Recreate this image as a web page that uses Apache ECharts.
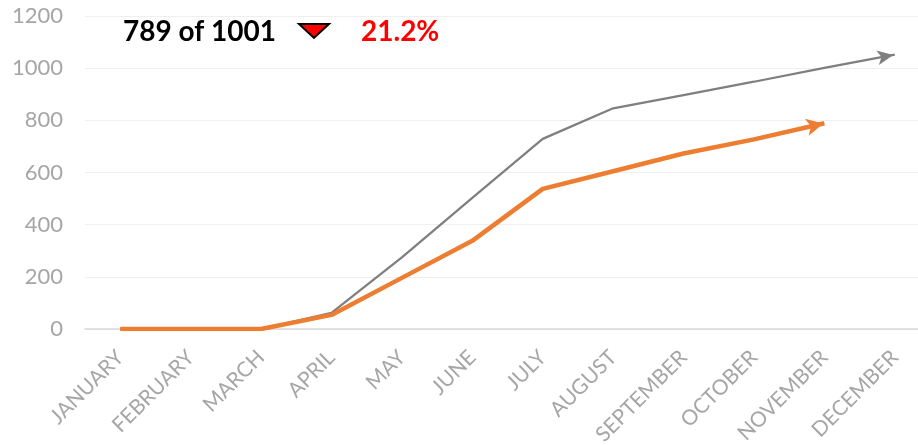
<!DOCTYPE html>
<html>
<head>
<meta charset="utf-8">
<script src="https://cdn.jsdelivr.net/npm/echarts@6/dist/echarts.min.js"></script>
<style>html,body{margin:0;padding:0;background:#fff}#c{width:918px;height:445px}</style>
</head>
<body>
<div id="c"></div>
<script>
var months = ['JANUARY','FEBRUARY','MARCH','APRIL','MAY','JUNE','JULY','AUGUST','SEPTEMBER','OCTOBER','NOVEMBER','DECEMBER'];
var target = [0, 0, 0, 62, 275, 503, 729, 846, 897, 948, 1001, 1052];
var actual = [0, 0, 0, 54, 196, 338, 537, 605, 673, 727, 789, null];
var yTicks = [0, 200, 400, 600, 800, 1000, 1200];

var FONT = 'Lato';
var lastIdx = 10;
var pct = ((1 - actual[lastIdx] / target[lastIdx]) * 100).toFixed(1) + '%';

function withArrow(arr, rot, size, offset) {
  var out = [];
  var last = -1;
  for (var i = 0; i < arr.length; i++) if (arr[i] != null) last = i;
  for (var j = 0; j < arr.length; j++) {
    if (j === last) out.push({ value: arr[j], symbol: 'arrow', symbolRotate: rot, symbolSize: size, symbolOffset: offset });
    else out.push(arr[j]);
  }
  return out;
}

var chart = echarts.init(document.getElementById('c'), null, { renderer: 'canvas' });
chart.setOption({
  animation: false,
  backgroundColor: '#ffffff',
  grid: { left: 85, width: 845, top: 16, bottom: 116, containLabel: false, outerBoundsMode: 'none' },
  xAxis: {
    type: 'category',
    data: months,
    boundaryGap: true,
    axisLine: { show: true, lineStyle: { color: '#d9d9d9', width: 1.5 } },
    axisTick: { show: false },
    axisLabel: { rotate: 45, color: '#a6a6a6', fontFamily: FONT, fontSize: 21, margin: 25, interval: 0 }
  },
  yAxis: {
    type: 'value',
    min: yTicks[0],
    max: yTicks[yTicks.length - 1],
    interval: yTicks[1] - yTicks[0],
    axisLine: { show: false },
    axisTick: { show: false },
    splitLine: { lineStyle: { color: '#efefef', width: 1 } },
    axisLabel: { color: '#a6a6a6', fontFamily: FONT, fontSize: 22, margin: 22, formatter: function (v) { return String(v); } }
  },
  series: [
    {
      type: 'line',
      data: withArrow(target, -79.5, [11, 16], [-1.5, 0.3]),
      symbol: 'none',
      lineStyle: { color: '#7f7f7f', width: 2.25 },
      itemStyle: { color: '#7f7f7f' },
      z: 2
    },
    {
      type: 'line',
      data: withArrow(actual, -77, [13, 17], [-1, 0.2]),
      symbol: 'none',
      lineStyle: { color: '#ed7d31', width: 4.5 },
      itemStyle: { color: '#ed7d31' },
      z: 3
    }
  ],
  graphic: [
    {
      type: 'text', left: 123, top: 18,
      style: { text: actual[lastIdx] + ' of ' + target[lastIdx], fill: '#000000', font: 'bold 28px ' + FONT }
    },
    {
      type: 'polygon',
      shape: { points: [[299, 24], [329, 24], [314, 38]] },
      style: { fill: '#ff0000', stroke: '#000000', lineWidth: 2 }
    },
    {
      type: 'text', left: 361, top: 18,
      style: { text: pct, fill: '#ff0000', font: 'bold 28px ' + FONT }
    }
  ]
});
</script>
</body>
</html>
